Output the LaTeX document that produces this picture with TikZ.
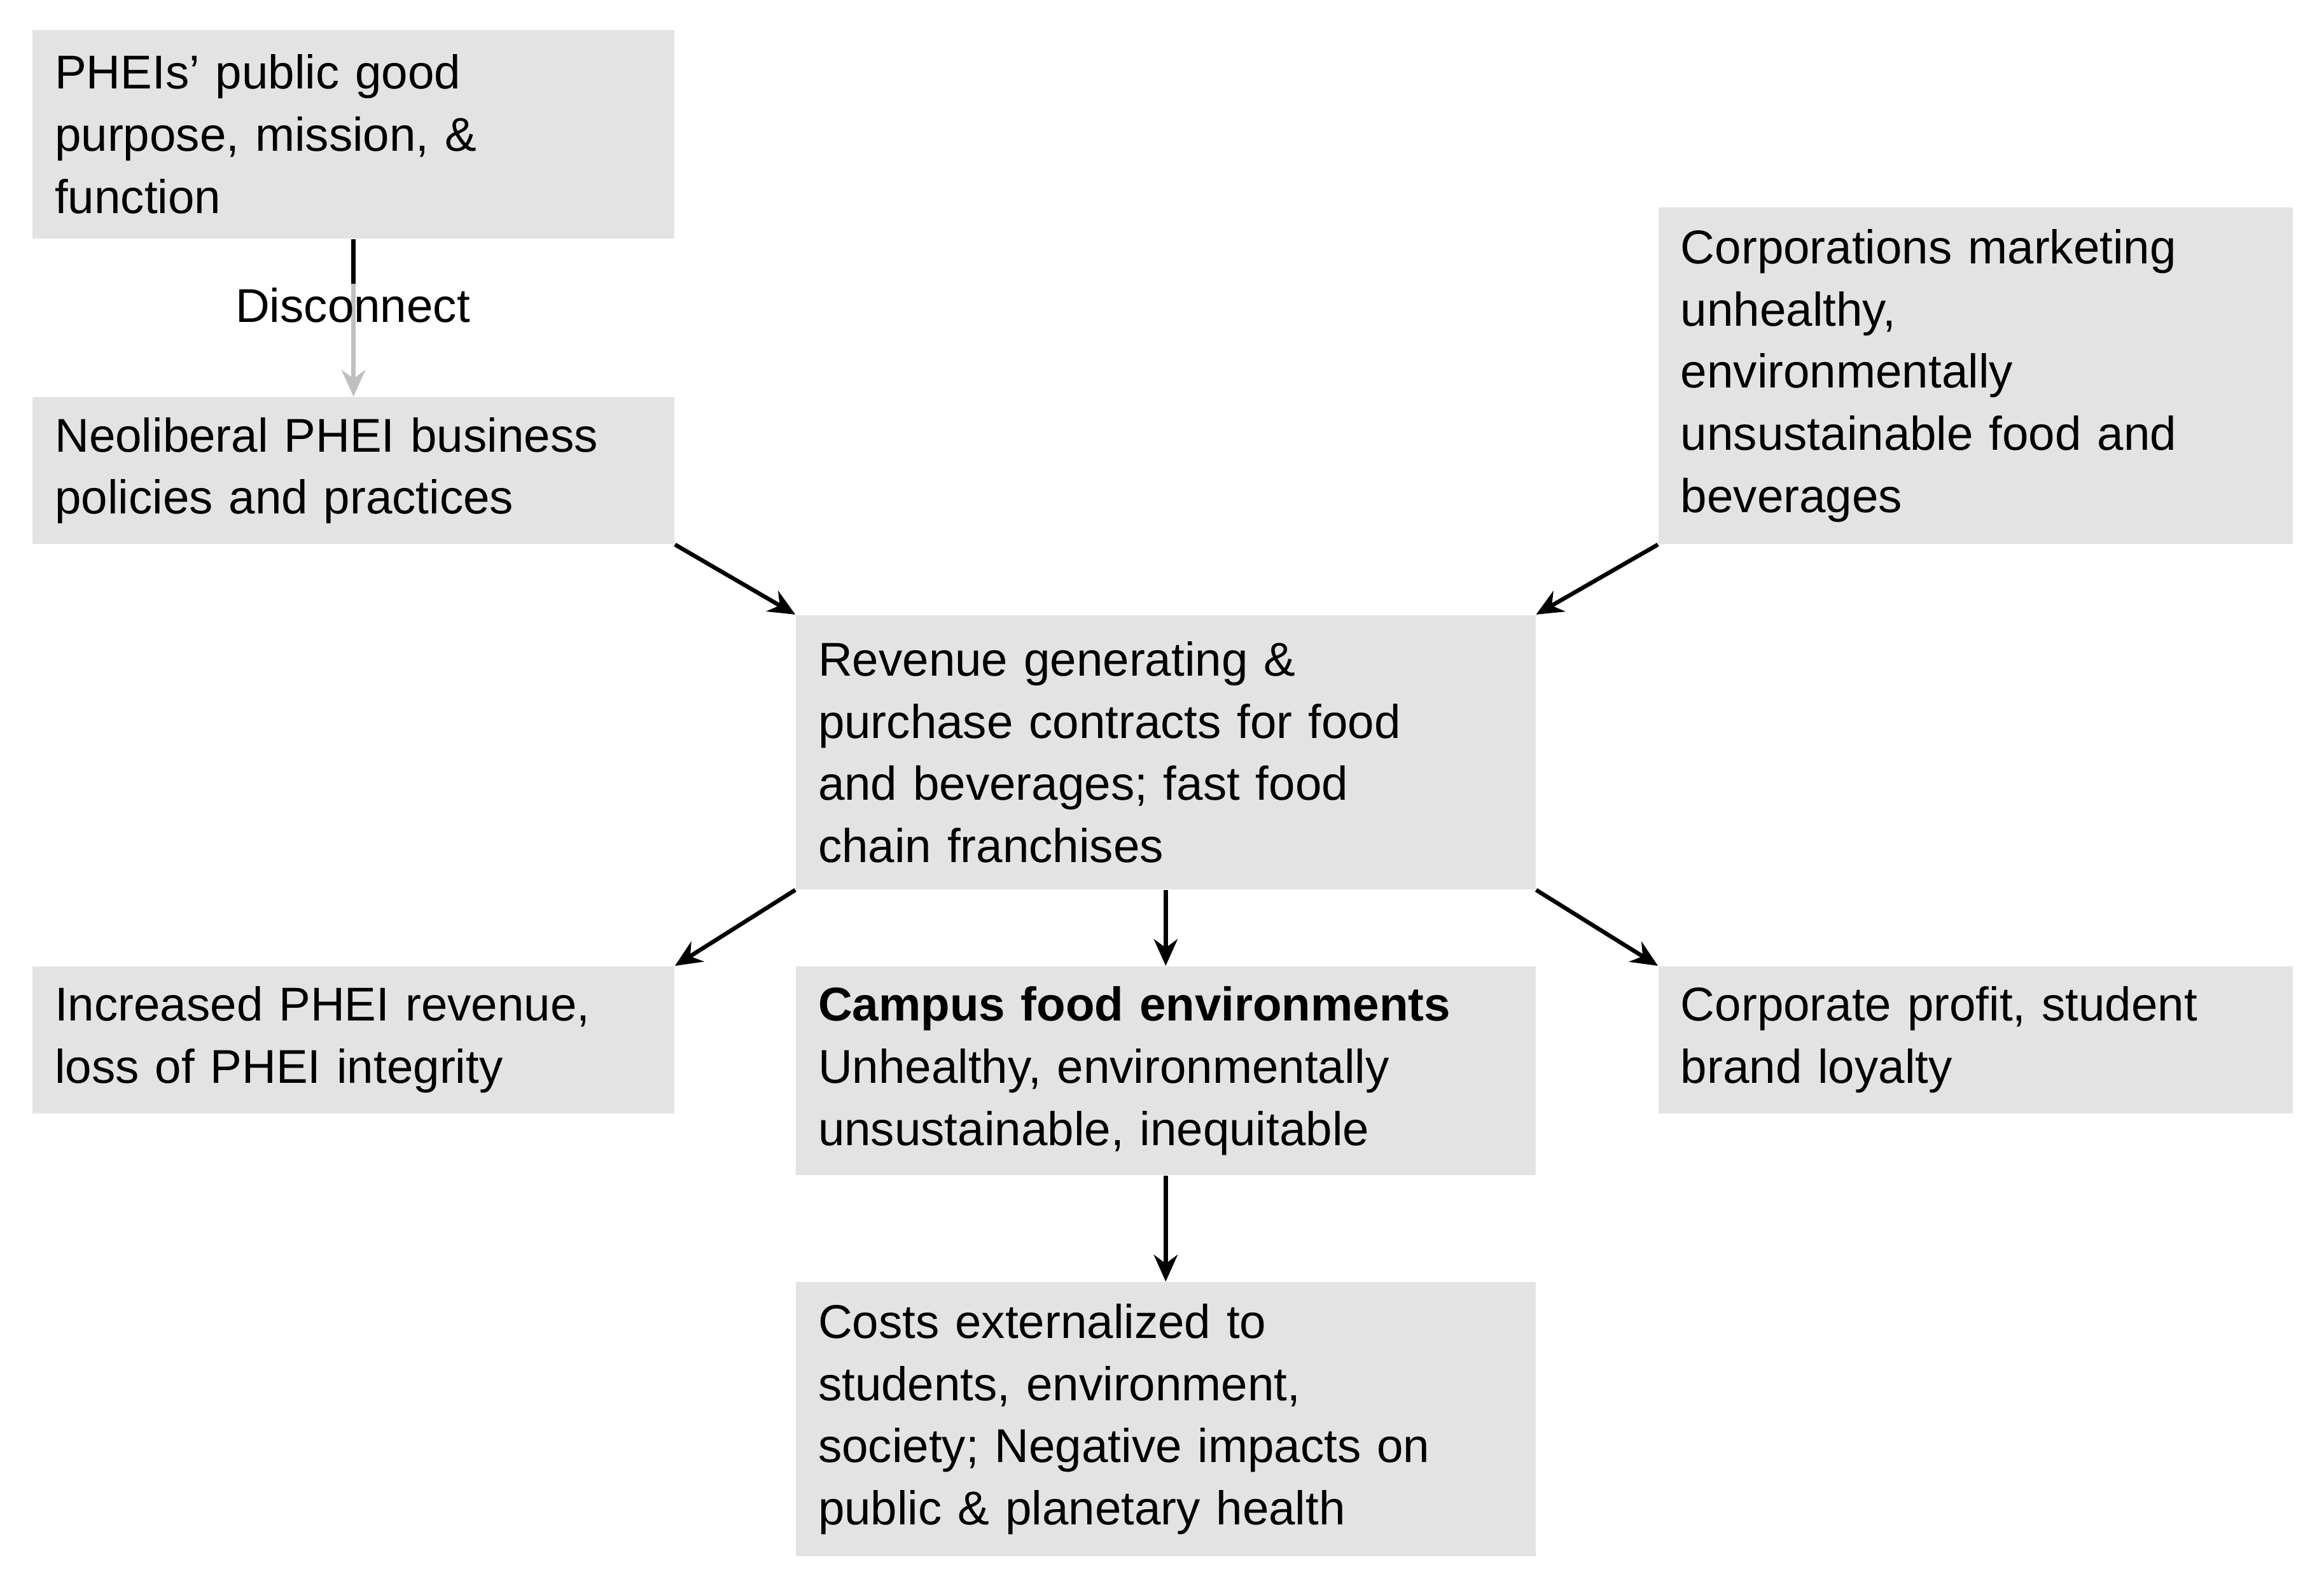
\documentclass[tikz,border=0pt]{standalone}
\usepackage{fontspec}
\setmainfont{Liberation Sans}
\usetikzlibrary{arrows.meta}
\begin{document}
\begin{tikzpicture}[x=0.5pt,y=-0.5pt,
  box/.style={fill=black!11,draw=none,align=left,inner xsep=7.5pt,inner ysep=0pt,font=\fontsize{16}{21}\selectfont,anchor=center},
  arr/.style={line width=1.4pt,-{Stealth[length=9pt,width=8pt]}}]
\useasboundingbox (0,0) rectangle (1568,1071);
\newcommand{\bx}[6]{\node[box,text width=#4*0.5pt-15pt,minimum width=#4*0.5pt,minimum height=#5*0.5pt] (#1) at (#2,#3) {#6};}
\bx{A}{238.5}{90.5}{433}{141}{PHEIs’ public good\\purpose, mission, \&\\function}
\bx{B}{238.5}{317.5}{433}{99}{Neoliberal PHEI business\\policies and practices}
\bx{C}{1333}{253.5}{428}{227}{Corporations marketing\\unhealthy,\\environmentally\\unsustainable food and\\beverages}
\bx{D}{786.5}{507.5}{499}{185}{Revenue generating \&\\purchase contracts for food\\and beverages; fast food\\chain franchises}
\bx{E}{238.5}{701.5}{433}{99}{Increased PHEI revenue,\\loss of PHEI integrity}
\bx{F}{786.5}{722.5}{499}{141}{\textbf{Campus food environments}\\Unhealthy, environmentally\\unsustainable, inequitable}
\bx{G}{1333}{701.5}{428}{99}{Corporate profit, student\\brand loyalty}
\bx{H}{786.5}{957.5}{499}{185}{Costs externalized to\\students, environment,\\society; Negative impacts on\\public \& planetary health}
\draw[arr,draw=black!25] (A.south) -- (B.north);
\draw[line width=1.4pt] (A.south) -- ++(0,30);
\node[font=\fontsize{16}{21}\selectfont] (dl) at (238,206) {Disconnect};
\draw[arr] (B.south east) -- (D.north west);
\draw[arr] (C.south west) -- (D.north east);
\draw[arr] (D.south west) -- (E.north east);
\draw[arr] (D.south) -- (F.north);
\draw[arr] (D.south east) -- (G.north west);
\draw[arr] (F.south) -- (H.north);
\end{tikzpicture}
\end{document}
